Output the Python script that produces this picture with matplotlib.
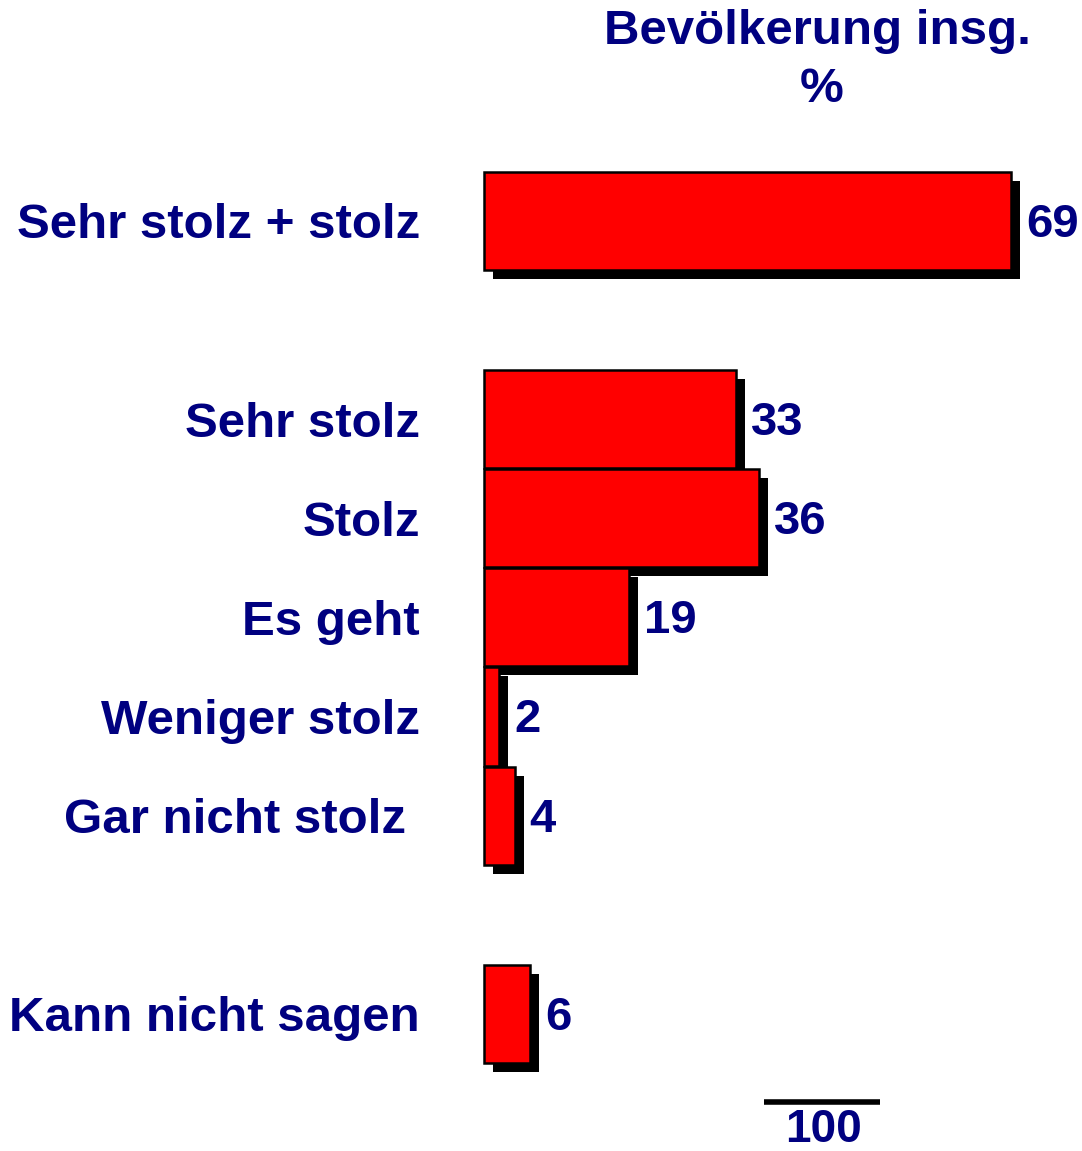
import matplotlib
matplotlib.use("Agg")
import matplotlib.pyplot as plt
import matplotlib.transforms as mtransforms

categories = ["Sehr stolz + stolz", "Sehr stolz", "Stolz", "Es geht",
              "Weniger stolz", "Gar nicht stolz ", "Kann nicht sagen"]
values = [69, 33, 36, 19, 2, 4, 6]
positions = [0, 2, 3, 4, 5, 6, 8]
title_lines = ["Bevölkerung insg.", "%"]
scale_label = "100"

NAVY = "#000080"
FONT = "Liberation Sans"

W, H = 1082, 1151
fig = plt.figure(figsize=(W / 100, H / 100), dpi=100)
ax = fig.add_axes([0, 0, 1, 1])
ax.set_axis_off()

px_per_unit_x = 7.64
px_per_unit_y = 99.1
x0_px = 484
y0_px = 221
ax.set_xlim(-x0_px / px_per_unit_x, (W - x0_px) / px_per_unit_x)
ax.set_ylim((H - y0_px) / px_per_unit_y, -y0_px / px_per_unit_y)

# shadows
shadow_tr = ax.transData + mtransforms.ScaledTranslation(9 / 100, -9 / 100, fig.dpi_scale_trans)
sh = ax.barh(positions, values, height=0.99, left=0, color="black", edgecolor="black", linewidth=0)
for p in sh.patches:
    p.set_transform(shadow_tr)
ax.barh(positions, values, height=0.99, left=0, color="#ff0000", edgecolor="black", linewidth=1.8)

val_off = mtransforms.offset_copy(ax.transData, fig=fig, x=15, y=-4, units="dots")
cat_off = mtransforms.offset_copy(ax.transData, fig=fig, x=0, y=-5, units="dots")
for pos, val, cat in zip(positions, values, categories):
    ax.text(val, pos, str(val), transform=val_off, ha="left", va="center",
            fontsize=34, fontweight="bold", color=NAVY, family=FONT)
    ax.text(-64 / px_per_unit_x, pos, cat, transform=cat_off, ha="right", va="center",
            fontsize=35.5, fontweight="bold", color=NAVY, family=FONT)

# title
fig.text(817 / W, 1 - 32 / H, title_lines[0], ha="center", va="center",
         fontsize=35.5, fontweight="bold", color=NAVY, family=FONT)
fig.text(822 / W, 1 - 89 / H, title_lines[1], ha="center", va="center",
         fontsize=35.5, fontweight="bold", color=NAVY, family=FONT)

# scale bar
fig.add_artist(plt.Line2D([764 / W, 880 / W], [1 - 1102 / H, 1 - 1102 / H],
                          color="black", linewidth=4, solid_capstyle="butt"))
fig.text(824 / W, 1 - 1130 / H, scale_label, ha="center", va="center",
         fontsize=33, fontweight="bold", color=NAVY, family=FONT)

fig.savefig("out.png", dpi=100)
